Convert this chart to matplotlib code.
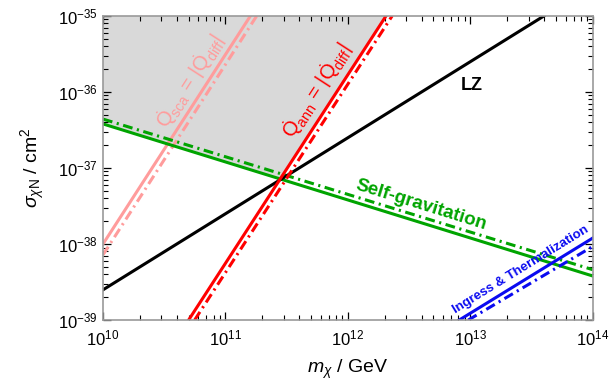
import numpy as np
import matplotlib
matplotlib.use("Agg")
import matplotlib.pyplot as plt
from matplotlib.ticker import FixedLocator, NullFormatter

plt.rcParams["font.family"] = ["Liberation Sans", "DejaVu Sans"]
plt.rcParams["mathtext.fontset"] = "custom"
plt.rcParams["mathtext.rm"] = "Liberation Sans"
plt.rcParams["mathtext.it"] = "Liberation Sans:italic"
plt.rcParams["mathtext.bf"] = "Liberation Sans:bold"

# ===== 읽어낸 값 (선분 끝점, GeV / cm^2) =====
LZ_M   = [1e10, 4.0e13]
LZ_S   = [2.5e-39, 1e-35]

SG_M   = [1e10, 1e14]
SG_S   = [3.8e-37, 3.8e-39]
SG2_S  = [4.4e-37, 4.6e-39]

ANN_M  = [5.0e10, 2.05e12]
ANN_S  = [1e-39, 1e-35]
ANN2_M = [5.6e10, 2.3e12]

SCA_M  = [1e10, 1.6e11]
SCA_S  = [1.0e-38, 1e-35]
SCA2_M = [1e10, 1.8e11]
SCA2_S = [7.2e-39, 1e-35]

ING_M  = [8.1e12, 1e14]
ING_S  = [1e-39, 1.2e-38]
ING2_M = [9.6e12, 1e14]
ING2_S = [1e-39, 9.3e-39]

X_DECADES = [10, 11, 12, 13, 14]
Y_DECADES = [-39, -38, -37, -36, -35]

XLIM = (1e10, 1e14)
YLIM = (1e-39, 1e-35)

GREEN = "#00a400"
RED   = "#ff0000"
PINK  = "#ff9c9c"
BLUE  = "#0a0af0"
DASHDOT = (0, (3.2, 1.5, 0.7, 1.5))
LW = 2.2


def cross(m1, s1, m2, s2):
    # 로그 공간에서 두 직선의 교점
    x1, y1 = np.log10(m1), np.log10(s1)
    x2, y2 = np.log10(m2), np.log10(s2)
    a1 = (y1[1] - y1[0]) / (x1[1] - x1[0])
    a2 = (y2[1] - y2[0]) / (x2[1] - x2[0])
    x = (y2[0] - a2 * x2[0] - y1[0] + a1 * x1[0]) / (a1 - a2)
    return 10 ** x, 10 ** (y1[0] + a1 * (x - x1[0]))


def angle(ax, m, s):
    p = ax.transData.transform(np.column_stack([m, s]))
    d = p[1] - p[0]
    return np.degrees(np.arctan2(d[1], d[0]))


def minors(decades):
    return [k * 10.0 ** d for d in decades[:-1] for k in range(2, 10)]


fig = plt.figure(figsize=(6.13, 3.88), dpi=100)
ax = fig.add_axes([0.168, 0.175, 0.799, 0.784])
ax.set_xscale("log")
ax.set_yscale("log")

# 회색 영역: 자기중력 선 위, Q_ann 선 왼쪽
mx, sx = cross(SG_M, SG_S, ANN_M, ANN_S)
poly_m = [XLIM[0], XLIM[0], mx, ANN_M[1]]
poly_s = [YLIM[1], SG_S[0], sx, ANN_S[1]]
ax.fill(poly_m, poly_s, color="#d9d9d9", lw=0, zorder=0)

ax.plot(SCA_M, SCA_S, color=PINK, lw=LW)
ax.plot(SCA2_M, SCA2_S, color=PINK, lw=LW, ls=DASHDOT)
ax.plot(SG_M, SG2_S, color=GREEN, lw=LW, ls=DASHDOT)
ax.plot(SG_M, SG_S, color=GREEN, lw=LW)
ax.plot(LZ_M, LZ_S, color="black", lw=LW)
ax.plot(ANN2_M, ANN_S, color=RED, lw=LW, ls=DASHDOT)
ax.plot(ANN_M, ANN_S, color=RED, lw=LW)
ax.plot(ING2_M, ING2_S, color=BLUE, lw=LW, ls=DASHDOT)
ax.plot(ING_M, ING_S, color=BLUE, lw=LW)

ax.set_xticks([10.0 ** d for d in X_DECADES])
ax.set_yticks([10.0 ** d for d in Y_DECADES])
ax.xaxis.set_minor_locator(FixedLocator(minors(X_DECADES)))
ax.yaxis.set_minor_locator(FixedLocator(minors(Y_DECADES)))
ax.xaxis.set_minor_formatter(NullFormatter())
ax.yaxis.set_minor_formatter(NullFormatter())
ax.set_xlim(*XLIM)
ax.set_ylim(*YLIM)

ax.set_xlabel(r"$m_\chi$ / GeV", fontsize=14, labelpad=7)
ax.set_ylabel(r"$\sigma_{\chi\mathrm{N}}$ / cm$^2$", fontsize=14, labelpad=8)

for sp in ax.spines.values():
    sp.set_color("#9a9a9a")
    sp.set_linewidth(1.2)
ax.tick_params(which="both", direction="in", top=True, right=True,
               labelsize=12, color="black")
ax.tick_params(which="major", length=6, width=0.9)
ax.tick_params(which="minor", length=3.5, width=0.8)
ax.tick_params(axis="x", pad=6)

fig.canvas.draw()

ax.text(1.03e13, 1.23e-36, "LZ", fontsize=13, fontweight="bold",
        ha="center", va="center")
ax.text(4.0e12, 3.3e-38, "Self-gravitation", color=GREEN, fontsize=13.5,
        fontweight="bold", ha="center", va="center",
        rotation=angle(ax, SG_M, SG_S), rotation_mode="anchor")
ax.text(2.6e13, 4.6e-39, "Ingress & Thermalization", color=BLUE,
        fontsize=9.5, fontweight="bold", ha="center", va="center",
        rotation=angle(ax, ING_M, ING_S), rotation_mode="anchor")
ax.text(5.6e11, 1.05e-36,
        r"$\dot{\mathrm{Q}}_{\mathrm{ann}}$ = |$\dot{\mathrm{Q}}_{\mathrm{diff}}$|",
        color=RED, fontsize=14.5, ha="center", va="center",
        rotation=angle(ax, ANN_M, ANN_S), rotation_mode="anchor")
ax.text(5.2e10, 1.4e-36,
        r"$\dot{\mathrm{Q}}_{\mathrm{sca}}$ = |$\dot{\mathrm{Q}}_{\mathrm{diff}}$|",
        color=PINK, fontsize=14.5, ha="center", va="center",
        rotation=angle(ax, SCA_M, SCA_S), rotation_mode="anchor")

fig.savefig("out.png", dpi=100)
